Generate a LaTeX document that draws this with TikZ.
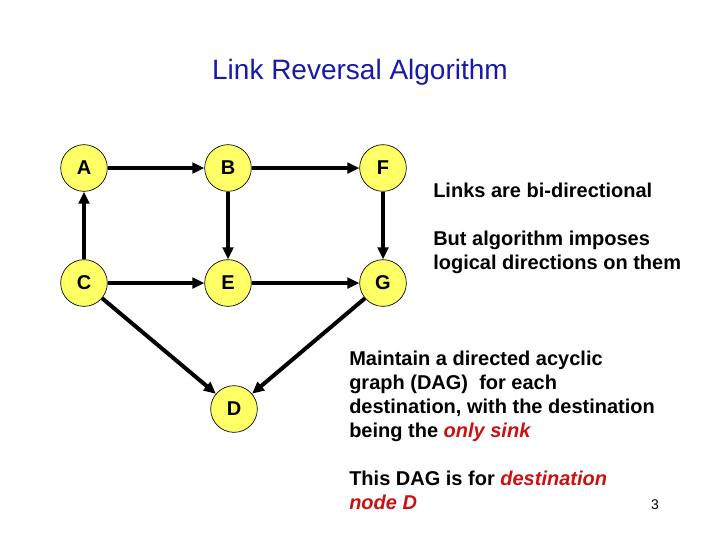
\documentclass[tikz,border=0pt]{standalone}
\usepackage{fontspec}
\setmainfont{Liberation Sans}
\usetikzlibrary{arrows.meta}
\definecolor{nodeyellow}{RGB}{255,255,102}
\definecolor{titleblue}{RGB}{24,24,170}
\definecolor{myred}{RGB}{204,16,16}
\tikzset{
  vtx/.style={circle, draw=black, line width=0.5pt, fill=nodeyellow, minimum size=35pt, inner sep=0pt, font=\fontsize{15}{18}\selectfont\bfseries},
  link/.style={line width=3pt, -{Triangle[length=9pt,width=8pt]}, shorten >=0pt},
  txt/.style={anchor=base west, inner sep=0pt, font=\fontsize{15}{18}\selectfont\bfseries},
}
\begin{document}
\begin{tikzpicture}[x=0.75pt,y=-0.75pt]
\useasboundingbox (0,0) rectangle (720,540);
\node[anchor=base, inner sep=0pt, text=titleblue, font=\fontsize{21}{25}\selectfont] (title) at (360,79) {Link Reversal Algorithm};
\node[vtx] (A) at (84,168) {A};
\node[vtx] (B) at (228,168) {B};
\node[vtx] (F) at (383,168) {F};
\node[vtx] (C) at (84,283) {C};
\node[vtx] (E) at (228,283) {E};
\node[vtx] (G) at (383,283) {G};
\node[vtx] (D) at (234,409) {D};
\draw[link] (A) -- (B);
\draw[link] (B) -- (F);
\draw[link] (C) -- (A);
\draw[link] (B) -- (E);
\draw[link] (F) -- (G);
\draw[link] (C) -- (E);
\draw[link] (E) -- (G);
\draw[link] (C) -- (D);
\draw[link] (G) -- (D);
\node[txt] (t1) at (433,197) {Links are bi-directional};
\node[txt] (t2) at (433,245) {But algorithm imposes};
\node[txt] (t3) at (433,269) {logical directions on them};
\node[txt] (t4) at (349,365) {Maintain a directed acyclic};
\node[txt] (t5) at (349,389) {graph (DAG)\ \ for each};
\node[txt] (t6) at (349,413) {destination, with the destination};
\node[txt] (t7) at (349,437) {being the \textcolor{myred}{\itshape only sink}};
\node[txt] (t8) at (349,485) {This DAG is for \textcolor{myred}{\itshape destination}};
\node[txt] (t9) at (349,509) {\textcolor{myred}{\itshape node D}};
\node[anchor=base, inner sep=0pt, font=\fontsize{10.5}{12}\selectfont] (pg) at (655,509) {3};
\end{tikzpicture}
\end{document}
